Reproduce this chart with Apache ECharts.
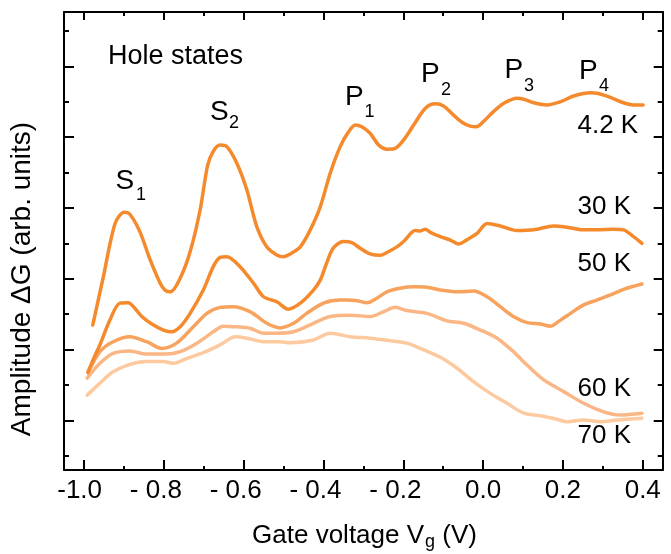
<!DOCTYPE html>
<html><head><meta charset="utf-8">
<script src="https://cdn.jsdelivr.net/npm/echarts@6/dist/echarts.min.js"></script>
<style>html,body{margin:0;padding:0;background:#fff}#c{width:671px;height:554px}</style>
</head><body><div id="c"></div>
<script>
// ---- axis ticks / labels ----
const xTickValues = [-1.0, -0.8, -0.6, -0.4, -0.2, 0.0, 0.2, 0.4];
const xTickLabels = ['-1.0', '- 0.8', '- 0.6', '- 0.4', '- 0.2', '0.0', '0.2', '0.4'];
const xMinorTicks = [-0.9, -0.7, -0.5, -0.3, -0.1, 0.1, 0.3];
const yMajorTicks = [1, 3, 5, 7, 9, 11];
const yMinorTicks = [0, 2, 4, 6, 8, 10, 12];

// ---- data: gate voltage (V) and amplitude (arb. units) ----
const vg42 = [-0.978,-0.952,-0.922,-0.899,-0.885,-0.860,-0.834,-0.809,-0.797,-0.783,-0.759,-0.734,-0.709,-0.690,-0.675,-0.659,-0.642,-0.617,-0.592,-0.567,-0.542,-0.517,-0.500,-0.483,-0.458,-0.433,-0.408,-0.383,-0.358,-0.337,-0.320,-0.304,-0.283,-0.262,-0.241,-0.223,-0.199,-0.174,-0.145,-0.120,-0.099,-0.074,-0.053,-0.032,-0.017,0.001,0.026,0.051,0.085,0.102,0.127,0.160,0.194,0.227,0.269,0.286,0.319,0.352,0.377,0.401];
const g42 = [3.69,5.02,6.56,6.88,6.82,6.33,5.53,4.87,4.68,4.63,5.01,5.76,6.94,8.21,8.62,8.78,8.73,8.26,7.51,6.47,5.90,5.67,5.62,5.70,5.90,6.38,7.03,7.98,8.73,9.15,9.34,9.29,9.11,8.78,8.66,8.67,8.92,9.34,9.81,9.94,9.88,9.62,9.42,9.31,9.29,9.44,9.72,9.95,10.10,10.07,9.97,9.91,10.00,10.16,10.25,10.24,10.12,9.97,9.91,9.91];

const vg30 = [-0.990,-0.972,-0.960,-0.935,-0.910,-0.889,-0.872,-0.855,-0.830,-0.801,-0.780,-0.759,-0.734,-0.701,-0.676,-0.659,-0.642,-0.609,-0.575,-0.550,-0.517,-0.488,-0.458,-0.425,-0.408,-0.391,-0.375,-0.350,-0.329,-0.308,-0.283,-0.258,-0.241,-0.216,-0.199,-0.170,-0.157,-0.145,-0.132,-0.107,-0.082,-0.061,-0.042,-0.015,0.010,0.043,0.085,0.127,0.177,0.202,0.252,0.286,0.327,0.352,0.377,0.398];
const g30 = [2.36,2.84,3.13,3.83,4.31,4.32,4.16,3.93,3.72,3.55,3.50,3.64,4.02,4.68,5.34,5.60,5.62,5.34,4.87,4.49,4.35,4.14,4.31,4.68,4.96,5.47,5.87,6.05,6.02,5.86,5.70,5.66,5.74,5.90,6.05,6.36,6.35,6.40,6.31,6.19,6.09,5.98,6.09,6.28,6.56,6.49,6.36,6.38,6.49,6.47,6.38,6.38,6.40,6.38,6.19,6.00];

const vg50 = [-0.990,-0.960,-0.927,-0.885,-0.843,-0.805,-0.768,-0.726,-0.692,-0.659,-0.626,-0.584,-0.542,-0.509,-0.475,-0.442,-0.400,-0.358,-0.341,-0.316,-0.291,-0.266,-0.241,-0.208,-0.174,-0.141,-0.107,-0.065,-0.024,0.010,0.043,0.076,0.110,0.143,0.169,0.194,0.219,0.252,0.286,0.319,0.352,0.398];
const g50 = [2.34,2.94,3.22,3.36,3.22,3.03,3.18,3.64,4.02,4.19,4.21,4.07,3.74,3.61,3.74,4.02,4.31,4.40,4.40,4.38,4.32,4.45,4.63,4.73,4.77,4.76,4.68,4.63,4.65,4.49,4.21,3.93,3.76,3.72,3.66,3.83,4.02,4.26,4.40,4.54,4.70,4.85];

const vg60 = [-0.992,-0.960,-0.927,-0.885,-0.843,-0.793,-0.759,-0.717,-0.676,-0.651,-0.617,-0.584,-0.550,-0.517,-0.475,-0.425,-0.383,-0.333,-0.283,-0.249,-0.220,-0.191,-0.141,-0.091,-0.049,-0.007,0.035,0.076,0.110,0.152,0.202,0.252,0.302,0.344,0.398];
const g60 = [2.19,2.61,2.89,2.96,2.87,2.87,2.94,3.18,3.50,3.66,3.64,3.60,3.46,3.46,3.50,3.74,3.93,3.97,3.93,4.07,4.19,4.10,4.02,3.81,3.74,3.55,3.32,2.94,2.56,2.14,1.81,1.48,1.24,1.15,1.20];

const vg70 = [-0.992,-0.960,-0.927,-0.885,-0.843,-0.801,-0.776,-0.742,-0.701,-0.659,-0.621,-0.592,-0.550,-0.509,-0.483,-0.425,-0.383,-0.333,-0.283,-0.233,-0.191,-0.149,-0.107,-0.065,-0.024,0.018,0.060,0.102,0.143,0.185,0.210,0.252,0.294,0.336,0.398];
const g70 = [1.71,2.05,2.37,2.58,2.66,2.66,2.61,2.75,2.91,3.13,3.36,3.32,3.22,3.22,3.19,3.27,3.46,3.36,3.32,3.25,3.18,2.99,2.78,2.47,2.09,1.76,1.48,1.20,1.13,1.03,0.96,1.01,0.96,1.01,1.06];

const seriesNames = ['70 K', '60 K', '50 K', '30 K', '4.2 K'];
const seriesX = [vg70, vg60, vg50, vg30, vg42];
const seriesY = [g70, g60, g50, g30, g42];
const seriesColors = ['#FDCAA0', '#FAB785', '#F7A35E', '#F58A2C', '#F58A2C'];

// ---- rendering ----
const FONT = '"Liberation Sans", Arial, Helvetica, sans-serif';
const cv = document.createElement('canvas').getContext('2d');
function tw(t, size) { cv.font = size + 'px ' + FONT; return cv.measureText(t).width; }
function zip(a, b) { const n = Math.min(a.length, b.length), r = []; for (let i = 0; i < n; i++) r.push([a[i], b[i]]); return r; }

const X_MIN = -1.05, X_MAX = 0.45, Y_MIN = -0.404, Y_MAX = 12.534;
const LBL = 26;
const hy = tw('-', LBL), hys = tw('- ', LBL);

function xAxisDef(pos, ticks, len, line, labels) {
  return {
    type: 'value', position: pos, min: X_MIN, max: X_MAX,
    axisLine: { show: line, onZero: false, lineStyle: { color: '#000', width: 2 } },
    axisTick: { show: true, inside: true, length: len, customValues: ticks, lineStyle: { color: '#000', width: 2 } },
    axisLabel: labels ? {
      show: true, customValues: xTickValues, margin: 8, color: '#000',
      fontSize: LBL, fontFamily: FONT,
      formatter: function (v) {
        let i = xTickValues.findIndex(t => Math.abs(t - v) < 1e-6);
        const s = i >= 0 ? xTickLabels[i] : String(v);
        if (s.indexOf('- ') === 0) return '{b|' + s + '}';
        if (s.indexOf('-') === 0) return '{a|' + s + '}';
        return '{c|' + s + '}';
      },
      rich: {
        a: { fontSize: LBL, fontFamily: FONT, color: '#000', padding: [0, hy, 0, 0] },
        b: { fontSize: LBL, fontFamily: FONT, color: '#000', padding: [0, hys, 0, 0] },
        c: { fontSize: LBL, fontFamily: FONT, color: '#000' }
      }
    } : { show: false },
    splitLine: { show: false }
  };
}
function yAxisDef(pos, ticks, len, line) {
  return {
    type: 'value', position: pos, min: Y_MIN, max: Y_MAX,
    axisLine: { show: line, onZero: false, lineStyle: { color: '#000', width: 2 } },
    axisTick: { show: true, inside: true, length: len, customValues: ticks, lineStyle: { color: '#000', width: 2 } },
    axisLabel: { show: false },
    splitLine: { show: false }
  };
}

const series = seriesNames.map((n, i) => ({
  type: 'line', name: n, data: zip(seriesX[i], seriesY[i]),
  xAxisIndex: 0, yAxisIndex: 0,
  showSymbol: false, symbol: 'none', smooth: 0.3, silent: true,
  lineStyle: { color: seriesColors[i], width: 3.5, cap: 'round', join: 'round' },
  z: 2 + i
}));

// text helpers
const graphics = [];
function txt(t, x, y, size, extra) {
  graphics.push(Object.assign({ type: 'text', x: x, y: y, silent: true,
    style: { text: t, fontSize: size, fontFamily: FONT, fill: '#000', align: 'left', verticalAlign: 'middle' } }, extra || {}));
}
function withSub(main, sub, x, y, mainSize, subSize, subX, subY) {
  txt(main, x, y, mainSize);
  txt(sub, subX, subY, subSize);
}

txt('Hole states', 108, 57, 27);
withSub('S', '1', 115.5, 181, 28, 18, 136, 195);
withSub('S', '2', 210, 112, 28, 18, 229, 123);
withSub('P', '1', 345, 97, 28, 18, 364.5, 112.5);
withSub('P', '2', 421, 74, 28, 18, 441, 90);
withSub('P', '3', 504.5, 70, 28, 18, 524, 86);
withSub('P', '4', 579, 71, 28, 18, 599, 86);

txt('4.2 K', 577.5, 126, 26);
txt('30 K', 577.5, 207, 26);
txt('50 K', 577.5, 264, 26);
txt('60 K', 577.5, 389, 26);
txt('70 K', 577.5, 436, 26);

// x title with subscript
(function () {
  const s1 = 'Gate voltage V', s2 = 'g', s3 = ' (V)', F = 26, FS = 18;
  const w1 = tw(s1, F), w2 = tw(s2, FS), w3 = tw(s3, F);
  const x0 = 364 - (w1 + w2 + w3) / 2, yc = 536;
  txt(s1, x0, yc, F);
  txt(s2, x0 + w1 + 1, yc + 6, FS);
  txt(s3, x0 + w1 + w2 + 1, yc, F);
})();
// y title rotated
graphics.push({ type: 'text', x: 22, y: 279, rotation: Math.PI / 2, silent: true,
  style: { text: 'Amplitude \u0394G (arb. units)', fontSize: 28, fontFamily: FONT, fill: '#000', align: 'center', verticalAlign: 'middle' } });

const chart = echarts.init(document.getElementById('c'), null, { renderer: 'canvas' });
chart.setOption({
  animation: false,
  backgroundColor: '#fff',
  grid: { left: 64, right: 8.3, top: 12, bottom: 84, containLabel: false, outerBoundsMode: 'none' },
  xAxis: [
    xAxisDef('bottom', xTickValues, 10, true, true),
    xAxisDef('bottom', xMinorTicks, 4, false, false),
    xAxisDef('top', xTickValues, 8, true, false),
    xAxisDef('top', xMinorTicks, 4, false, false)
  ],
  yAxis: [
    yAxisDef('left', yMajorTicks, 10, true),
    yAxisDef('left', yMinorTicks, 5, false),
    yAxisDef('right', yMajorTicks, 9, true),
    yAxisDef('right', yMinorTicks, 5, false)
  ],
  series: series,
  graphic: graphics
});
</script></body></html>
